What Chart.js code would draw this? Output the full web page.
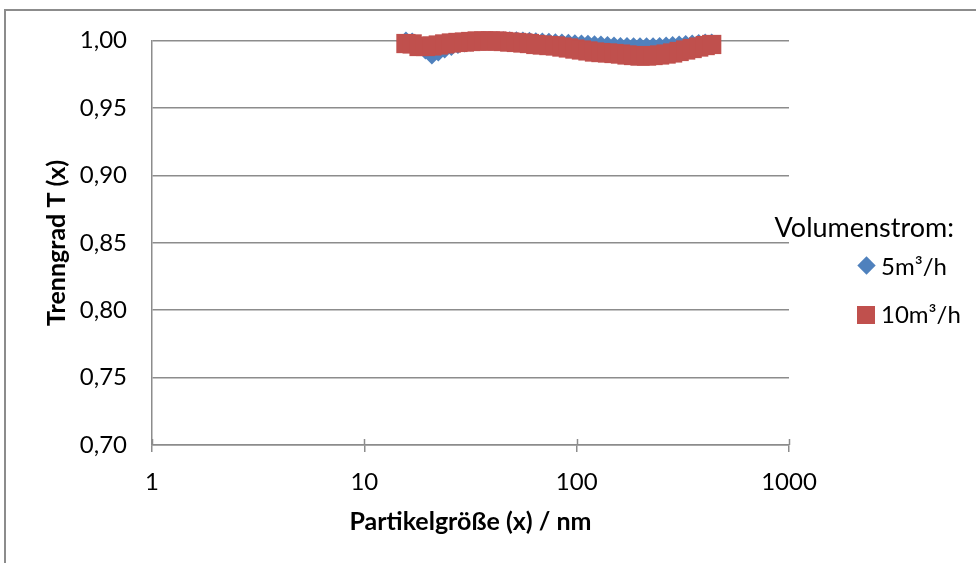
<!DOCTYPE html>
<html>
<head>
<meta charset="utf-8">
<script src="https://cdn.jsdelivr.net/npm/chart.js@4/dist/chart.umd.min.js"></script>
<style>
  html, body { margin: 0; padding: 0; background: #fff; }
  #wrap { position: relative; width: 976px; height: 563px; overflow: hidden; font-family: Lato, sans-serif; color: #000; }
  #frame { position: absolute; left: 4px; top: 9px; width: 1100px; height: 700px; border: 2px solid #8c8c8c; box-sizing: border-box; }
  #chart { position: absolute; left: 0; top: 0; }
  .lg { position: absolute; line-height: 1; white-space: nowrap; }
  #lgTitle { right: 22px; top: 213px; font-size: 27px; }
  #lg1 { left: 881px; top: 254px; font-size: 24px; }
  #lg2 { left: 881px; top: 302px; font-size: 24px; }
  #mk1 { position: absolute; left: 860px; top: 259px; width: 13px; height: 13px; background: #4f81bd; transform: rotate(45deg); }
  #mk2 { position: absolute; left: 857px; top: 306px; width: 18px; height: 18px; background: #c0504d; }
</style>
</head>
<body>
<div id="wrap">
  <div id="frame"></div>
  <canvas id="chart" width="976" height="563"></canvas>
  <div class="lg" id="lgTitle">Volumenstrom:</div>
  <div id="mk1"></div><div class="lg" id="lg1">5m³/h</div>
  <div id="mk2"></div><div class="lg" id="lg2">10m³/h</div>
</div>
<script>
// particle size channels (nm), shared by both series
var sizes = [15.7, 16.8, 18.1, 19.4, 20.8, 22.3, 23.9, 25.7, 27.6, 29.6, 31.7, 34.0,
  36.5, 39.2, 42.1, 45.1, 48.4, 52.0, 55.8, 59.9, 64.2, 68.9, 74.0, 79.4,
  85.2, 91.4, 98.1, 105.3, 113.0, 121.3, 130.1, 139.7, 149.9, 160.8, 172.6, 185.3,
  198.8, 213.4, 229.0, 245.8, 263.8, 283.1, 303.8, 326.1, 349.9, 375.6, 403.0, 432.5];

// Trenngrad at 5 m3/h
var flow5 = [0.9998, 0.9990, 0.9964, 0.9931, 0.9894, 0.9916, 0.9938, 0.9957, 0.9972, 0.9983, 0.9990, 0.9998,
  1.0000, 1.0000, 1.0000, 1.0000, 1.0000, 1.0000, 0.9998, 0.9996, 0.9993, 0.9990, 0.9988, 0.9985,
  0.9983, 0.9981, 0.9978, 0.9976, 0.9973, 0.9970, 0.9968, 0.9964, 0.9961, 0.9957, 0.9957, 0.9955,
  0.9955, 0.9955, 0.9955, 0.9957, 0.9961, 0.9964, 0.9968, 0.9972, 0.9976, 0.9979, 0.9983, 0.9983];

// Trenngrad at 10 m3/h
var flow10 = [0.9979, 0.9976, 0.9957, 0.9957, 0.9961, 0.9968, 0.9976, 0.9983, 0.9987, 0.9990, 0.9994, 0.9998,
  0.9998, 0.9998, 0.9998, 0.9994, 0.9990, 0.9987, 0.9983, 0.9979, 0.9972, 0.9968, 0.9964, 0.9961,
  0.9953, 0.9946, 0.9938, 0.9931, 0.9924, 0.9916, 0.9912, 0.9909, 0.9905, 0.9901, 0.9894, 0.9890,
  0.9886, 0.9886, 0.9890, 0.9894, 0.9901, 0.9909, 0.9920, 0.9931, 0.9942, 0.9953, 0.9964, 0.9972];

var xTicks = [1, 10, 100, 1000];
var yTicks = [0.70, 0.75, 0.80, 0.85, 0.90, 0.95, 1.00];

function toPoints(ys) {
  return sizes.map(function (x, i) { return { x: x, y: ys[i] }; });
}

var gridGray = '#8c8c8c';

// small cross ticks on the x axis (the part above the axis line)
var upTicks = {
  id: 'upTicks',
  afterDatasetsDraw: function (chart) {
    var sx = chart.scales.x, ctx = chart.ctx, y = chart.chartArea.bottom;
    ctx.save();
    ctx.strokeStyle = gridGray;
    ctx.lineWidth = 1.5;
    xTicks.forEach(function (v) {
      var px = Math.round(sx.getPixelForValue(v)) + 0.5;
      ctx.beginPath();
      ctx.moveTo(px, y - 6);
      ctx.lineTo(px, y);
      ctx.stroke();
    });
    ctx.restore();
  }
};

Chart.defaults.font.family = 'Lato, sans-serif';
Chart.defaults.color = '#000';

new Chart(document.getElementById('chart'), {
  type: 'scatter',
  data: {
    datasets: [{
      label: '5m³/h',
      data: toPoints(flow5),
      pointStyle: 'rectRot',
      pointRadius: 9.5,
      pointBorderWidth: 0,
      backgroundColor: '#4f81bd',
      borderColor: '#4f81bd',
      clip: false,
      order: 1
    }, {
      label: '10m³/h',
      data: toPoints(flow10),
      pointStyle: 'rect',
      pointRadius: 13.6,
      pointBorderWidth: 0,
      backgroundColor: '#c0504d',
      borderColor: '#c0504d',
      clip: false,
      order: 0
    }]
  },
  options: {
    responsive: false,
    animation: false,
    events: [],
    layout: { padding: { left: 42, right: 187, top: 40.7, bottom: 26 } },
    plugins: { legend: { display: false }, tooltip: { enabled: false } },
    scales: {
      x: {
        type: 'logarithmic',
        min: 1, max: 1000,
        afterBuildTicks: function (s) { s.ticks = xTicks.map(function (v) { return { value: v }; }); },
        afterFit: function (s) { s.height = 92; },
        grid: { drawOnChartArea: false, drawTicks: true, tickLength: 7, color: gridGray, lineWidth: 1.5 },
        border: { color: gridGray, width: 1.5 },
        ticks: { font: { size: 24 }, padding: 16, maxRotation: 0, autoSkip: false,
          callback: function (v) { return String(v); } },
        title: { display: true, text: 'Partikelgröße (x) / nm', font: { size: 25, weight: 'bold' }, padding: 0 }
      },
      y: {
        min: 0.70, max: 1.00,
        afterBuildTicks: function (s) { s.ticks = yTicks.map(function (v) { return { value: v }; }); },
        afterFit: function (s) { s.width = 110; },
        grid: { drawTicks: false, color: gridGray, lineWidth: 1.5 },
        border: { color: gridGray, width: 1.5 },
        ticks: { font: { size: 24 }, padding: 25,
          callback: function (v) { return Number(v).toFixed(2).replace('.', ','); } },
        title: { display: true, text: 'Trenngrad T (x)', font: { size: 25, weight: 'bold' }, padding: 0 }
      }
    }
  },
  plugins: [upTicks]
});
</script>
</body>
</html>
